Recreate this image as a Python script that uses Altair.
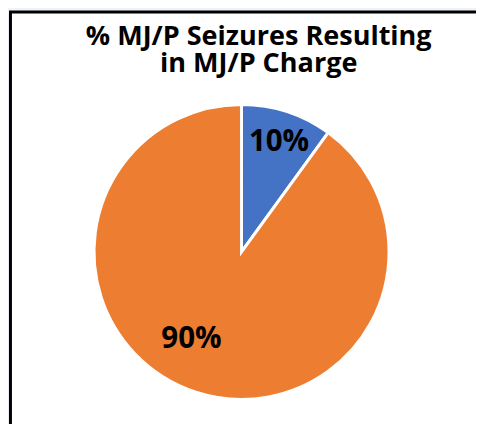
import altair as alt
import pandas as pd

categories = ["Charged", "Not charged"]
values = [10, 90]
labels = ["10%", "90%"]
colors = ["#4472C4", "#ED7D31"]
title_lines = ["% MJ/P Seizures Resulting", "in MJ/P Charge"]

df = pd.DataFrame({"cat": categories, "val": values, "label": labels, "ord": [0, 1]})

W, H = 476, 416
CX, CY, R = 237.5, 244.5, 150
FONT = "Open Sans"

frame = alt.Chart(pd.DataFrame({"a": [0]})).mark_rect(
    fill="white", stroke="black", strokeWidth=3
).encode(x=alt.value(2.5), x2=alt.value(700), y=alt.value(0.5), y2=alt.value(700))

base = alt.Chart(df).encode(
    theta=alt.Theta("val:Q", stack=True),
    order=alt.Order("ord:Q"),
)

pie = base.mark_arc(outerRadius=R, stroke="white", strokeWidth=3).encode(
    color=alt.Color("cat:N", scale=alt.Scale(domain=categories, range=colors), legend=None),
    x=alt.value(CX), y=alt.value(CY),
)

lab1 = base.transform_calculate(
    t=f"datum.cat == '{categories[0]}' ? datum.label : ''"
).mark_text(radius=117, font=FONT, fontSize=30, fontWeight="bold", color="black",
            baseline="middle", align="center", dx=2).encode(
    text="t:N", x=alt.value(CX), y=alt.value(CY)
)

lab2 = base.transform_calculate(
    t=f"datum.cat == '{categories[1]}' ? datum.label : ''"
).mark_text(radius=100, font=FONT, fontSize=30, fontWeight="bold", color="black",
            baseline="middle", align="center", dx=-20, dy=-6).encode(
    text="t:N", x=alt.value(CX), y=alt.value(CY)
)

title = alt.Chart(pd.DataFrame({"t": [title_lines]})).mark_text(
    font=FONT, fontSize=27.5, fontWeight="bold", color="black", align="center",
    baseline="alphabetic", lineHeight=28
).encode(text="t", x=alt.value(255), y=alt.value(34))

chart = alt.layer(frame, pie, lab1, lab2, title).properties(
    width=W, height=H, autosize=alt.AutoSizeParams(type="none"), padding=0,
    background="#eef2f9"
).configure_view(stroke=None)

chart.save("out.html", embed_options={"renderer": "svg", "actions": False})
